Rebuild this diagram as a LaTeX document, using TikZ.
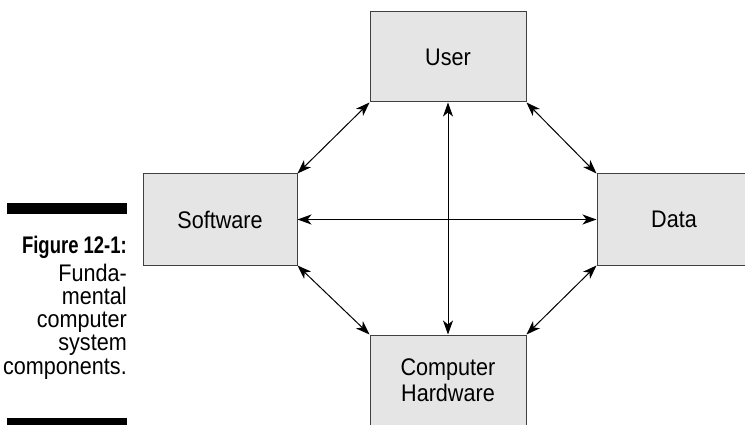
\documentclass[tikz,border=0pt]{standalone}
\usepackage{fontspec}
\setmainfont{Liberation Sans}[FakeStretch=0.9]
\newfontfamily\figbold{Liberation Sans}[FakeStretch=0.77]
\usetikzlibrary{arrows.meta}

\begin{document}
\begin{tikzpicture}[x=1pt, y=-1pt,
    box/.style={rectangle, draw=black!75, fill=black!10, line width=1pt, minimum width=156pt, minimum height=90pt, inner sep=0pt, align=center, font=\fontsize{24}{26.5}\selectfont},
    arrow/.style={{Stealth[length=14pt,width=10pt,inset=4pt]}-{Stealth[length=14pt,width=10pt,inset=4pt]}, line width=1pt},
    capline/.style={anchor=base east, inner sep=0pt, font=\fontsize{24}{23.4}\selectfont}
]
\clip (0,0) rectangle (745,425);

\node[box] (user) at (448,57) {User};
\node[box, minimum width=154pt, minimum height=91pt] (software) at (220,219.5) {Software};
\node[box, minimum width=154pt, minimum height=91pt] (data) at (674,219.5) {Data};
\node[box] (hardware) at (448,380) {Computer\\Hardware};

\draw[arrow] (user.south west) -- (software.north east);
\draw[arrow] (user.south east) -- (data.north west);
\draw[arrow] (software.south east) -- (hardware.north west);
\draw[arrow] (data.south west) -- (hardware.north east);
\draw[arrow] (software.east) -- (data.west);
\draw[arrow] (user.south) -- (hardware.north);

% caption at the left
\fill (7,203) rectangle (127,214);
\fill (7,418) rectangle (127,430);
\node[capline] (figlabel) at (127,253) {\figbold\bfseries Figure 12-1:};
\foreach \txt [count=\i] in {Funda-, mental, computer, system, components.}
    \node[capline] (cap\i) at (127,{281+23.25*(\i-1)}) {\txt};
\end{tikzpicture}
\end{document}
